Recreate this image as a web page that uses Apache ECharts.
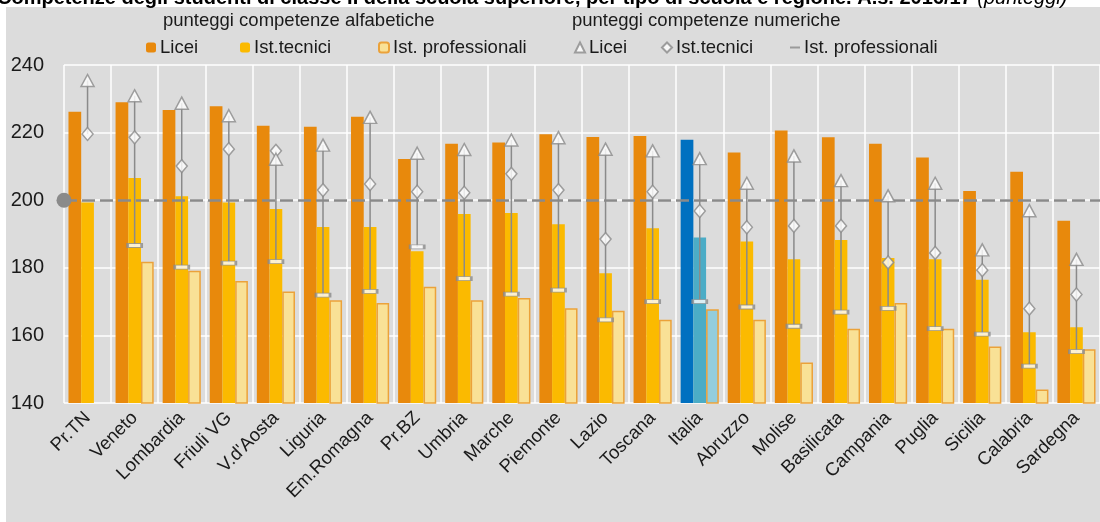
<!DOCTYPE html>
<html>
<head>
<meta charset="utf-8">
<script src="https://cdn.jsdelivr.net/npm/echarts@6/dist/echarts.min.js"></script>
<style>
  html, body { margin: 0; padding: 0; background: #fff; }
  #wrap { position: relative; width: 1100px; height: 522px; overflow: hidden; }
  #bg { position: absolute; left: 6px; top: 7px; width: 1094px; height: 515px; background: #DCDCDC; }
  #chart { position: absolute; left: 0; top: 0; width: 1100px; height: 522px; }
</style>
</head>
<body>
<div id="wrap"><div id="bg"></div><div id="chart"></div></div>
<script>
var categories = ["Pr.TN", "Veneto", "Lombardia", "Friuli VG", "V.d'Aosta", "Liguria", "Em.Romagna", "Pr.BZ", "Umbria", "Marche", "Piemonte", "Lazio", "Toscana", "Italia", "Abruzzo", "Molise", "Basilicata", "Campania", "Puglia", "Sicilia", "Calabria", "Sardegna"];

// punteggi competenze alfabetiche (barre)
var alfLicei = [226.2, 229.0, 226.7, 227.8, 222.0, 221.7, 224.7, 212.2, 216.7, 217.1, 219.5, 218.7, 219.0, 217.9, 214.1, 220.6, 218.6, 216.7, 212.6, 202.7, 208.4, 193.9];
var alfTecnici = [199.3, 206.6, 201.2, 199.3, 197.4, 192.1, 192.1, 184.9, 195.9, 196.2, 192.9, 178.4, 191.7, 189.0, 187.8, 182.5, 188.2, 182.9, 182.5, 176.5, 160.9, 162.4];
var alfProf = [null, 181.8, 179.1, 176.1, 173.0, 170.4, 169.6, 174.4, 170.4, 171.1, 168.0, 167.3, 164.6, 167.7, 164.6, 152.0, 162.0, 169.6, 162.0, 156.7, 144.0, 155.9];

// punteggi competenze numeriche (marcatori)
var numLicei = [235.4, 230.9, 228.7, 225.0, 212.1, 216.3, 224.5, 213.9, 215.0, 217.8, 218.5, 215.1, 214.6, 212.3, 205.0, 213.1, 205.8, 201.3, 205.0, 185.3, 196.9, 182.5];
var numTecnici = [219.6, 218.6, 210.1, 215.1, 214.6, 203.0, 204.8, 202.5, 202.2, 207.8, 203.0, 188.5, 202.5, 196.8, 192.0, 192.4, 192.4, 181.6, 184.4, 179.3, 167.9, 172.1];
var numProf = [null, 186.6, 180.2, 181.4, 181.8, 171.9, 173.0, 186.2, 176.8, 172.2, 173.4, 164.6, 170.0, 170.0, 168.4, 162.7, 166.9, 168.0, 162.0, 160.4, 150.9, 155.2];

var yTicks = [140, 160, 180, 200, 220, 240];
var refValue = 200;
var highlight = "Italia";

var FONT = "'Liberation Sans', Arial, sans-serif";
var C = {
  licei: "#E8890C",
  tecnici: "#FBBA00",
  prof: "#F9E196",
  profBorder: "#EBA23A",
  itLicei: "#0070C0",
  itTecnici: "#4BACC6",
  itProf: "#93CDDD",
  gray: "#8A8A8A",
  text: "#1a1a1a"
};

var legendNames = {
  aLicei: "Licei", aTecnici: "Ist.tecnici", aProf: "Ist. professionali",
  nLicei: "Licei", nTecnici: "Ist.tecnici", nProf: "Ist. professionali"
};

// one legend per item so each sits where the original puts it
var legendItems = [
  { name: "aLicei", left: 146 },
  { name: "aTecnici", left: 240 },
  { name: "aProf", left: 378 },
  { name: "nLicei", left: 574, icon: "triangle" },
  { name: "nTecnici", left: 661, icon: "diamond" },
  { name: "nProf", left: 790, icon: "path://M0,4L10,4L10,6L0,6Z", itemStyle: { color: "#8A8A8A", borderWidth: 0 } }
];

function barData(values, hlColor) {
  return values.map(function (v, i) {
    if (categories[i] === highlight) return { value: v, itemStyle: { color: hlColor } };
    return v;
  });
}

var ranges = categories.map(function (c, i) {
  var vals = [numLicei[i], numTecnici[i], numProf[i]].filter(function (v) { return v != null; });
  return [i, Math.min.apply(null, vals), Math.max.apply(null, vals)];
});

var chart = echarts.init(document.getElementById("chart"));

var markerStyle = { color: "#fff", borderColor: C.gray, borderWidth: 1.5 };

chart.setOption({
  animation: false,
  textStyle: { fontFamily: FONT },
  graphic: [
    {
      type: "text", left: -3, top: -12, z: 1,
      style: {
        text: "{b|Competenze degli studenti di classe II della scuola superiore, per tipo di scuola e regione. A.s. 2016/17 }{i|(punteggi)}",
        fill: "#000",
        rich: {
          b: { font: "bold 20px 'Liberation Sans', sans-serif", fill: "#000" },
          i: { font: "italic 20px 'Liberation Sans', sans-serif", fill: "#000" }
        }
      }
    },
    { type: "text", left: 163, top: 11, style: { text: "punteggi competenze alfabetiche", font: "18.5px " + FONT, fill: C.text } },
    { type: "text", left: 572, top: 11, style: { text: "punteggi competenze numeriche", font: "18.5px " + FONT, fill: C.text } }
  ],
  legend: legendItems.map(function (it) {
    var d = { name: it.name };
    if (it.icon) d.icon = it.icon;
    if (it.itemStyle) d.itemStyle = it.itemStyle;
    return {
      data: [d],
      left: it.left, top: 38, padding: 0,
      itemWidth: 10, itemHeight: 10,
      formatter: function (n) { return legendNames[n]; },
      textStyle: { fontFamily: FONT, fontSize: 18.5, color: C.text, padding: [0, 0, 0, -1] }
    };
  }),
  grid: { left: 64, right: 0, top: 65, bottom: 119, containLabel: false },
  xAxis: {
    type: "category",
    data: categories,
    axisLine: { show: false },
    axisTick: { show: false },
    axisLabel: { rotate: 45, margin: 12, color: C.text, fontSize: 18.5, fontFamily: FONT, interval: 0 },
    splitLine: { show: true, interval: 0, lineStyle: { color: "#fff", width: 1.5 } }
  },
  yAxis: {
    type: "value",
    min: yTicks[0],
    max: yTicks[yTicks.length - 1],
    interval: 20,
    axisLine: { show: false },
    axisTick: { show: false },
    axisLabel: { color: C.text, fontSize: 20, fontFamily: FONT, margin: 20 },
    splitLine: { lineStyle: { color: "#fff", width: 1.5 } }
  },
  series: [
    {
      name: "aLicei", type: "bar", data: barData(alfLicei, C.itLicei),
      barGap: "0%", barCategoryGap: "19%",
      itemStyle: { color: C.licei }
    },
    {
      name: "aTecnici", type: "bar", data: barData(alfTecnici, C.itTecnici),
      itemStyle: { color: C.tecnici }
    },
    {
      name: "aProf", type: "bar", data: barData(alfProf, C.itProf),
      itemStyle: { color: C.prof, borderColor: C.profBorder, borderWidth: 1.5 }
    },
    {
      name: "range", type: "custom", data: ranges, z: 5,
      renderItem: function (params, api) {
        var lo = api.coord([api.value(0), api.value(1)]);
        var hi = api.coord([api.value(0), api.value(2)]);
        return {
          type: "line",
          shape: { x1: lo[0], y1: lo[1], x2: hi[0], y2: hi[1] },
          style: { stroke: C.gray, lineWidth: 1.5 }
        };
      },
      markLine: {
        silent: true,
        symbol: ["circle", "none"],
        symbolSize: 15,
        label: { show: false },
        lineStyle: { color: C.gray, type: [13, 5], width: 2.5 },
        itemStyle: { color: C.gray },
        data: [{ yAxis: refValue }]
      }
    },
    {
      name: "nProf", type: "scatter", data: numProf, z: 6,
      symbol: "rect", symbolSize: [14, 4],
      itemStyle: markerStyle
    },
    {
      name: "nTecnici", type: "scatter", data: numTecnici, z: 7,
      symbol: "diamond", symbolSize: [11, 13],
      itemStyle: markerStyle
    },
    {
      name: "nLicei", type: "scatter", data: numLicei, z: 8,
      symbol: "triangle", symbolSize: [13, 12],
      itemStyle: markerStyle
    }
  ]
});
</script>
</body>
</html>
